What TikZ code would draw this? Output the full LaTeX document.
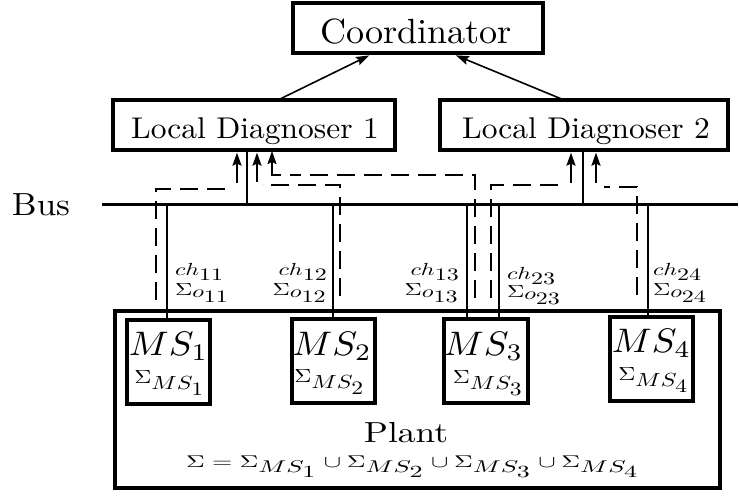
\documentclass[tikz,border=0pt]{standalone}
\usepackage{graphicx}
\usetikzlibrary{arrows.meta}
\newcommand{\sx}[3]{\scalebox{#1}[#2]{#3}}
\begin{document}
\begin{tikzpicture}[x=1pt,y=-1pt,
  bx/.style={draw, line width=3.3pt, inner sep=0pt},
  msbx/.style={draw, line width=4pt, inner sep=0pt, minimum width=83pt, minimum height=84pt},
  solidln/.style={line width=1.5pt},
  busln/.style={line width=3pt},
  dsh/.style={line width=1.6pt, dash pattern=on 18pt off 9pt},
  arr/.style={line width=1.6pt, -{Stealth[length=13pt,width=9pt,inset=2pt]}, shorten >=1pt},
  lbl/.style={inner sep=0pt, outer sep=0pt}]
\useasboundingbox (0,0) rectangle (739,496);
\fill[white] (0,0) rectangle (739,496);

% Coordinator and local diagnosers
\node[bx, minimum width=250pt, minimum height=50pt] (coord) at (418,28) {};
\node[lbl, anchor=base] (coordt) at (416,43) {\sx{3.61}{3.5}{Coordinator}};
\node[bx, minimum width=282pt, minimum height=50pt] (ld1) at (254,125) {};
\node[lbl, anchor=base] (ld1t) at (255,138) {\sx{3.15}{3.0}{Local Diagnoser 1}};
\node[bx, minimum width=288pt, minimum height=50pt] (ld2) at (584,125) {};
\node[lbl, anchor=base] (ld2t) at (586,138) {\sx{3.15}{3.0}{Local Diagnoser 2}};

\coordinate (u1) at (278,100); \coordinate (v1) at (370,55);
\coordinate (u2) at (564,100); \coordinate (v2) at (455,55);
\draw[arr] (u1) -- (v1);
\draw[arr] (u2) -- (v2);

% Bus
\coordinate (busL) at (102,204); \coordinate (busR) at (738,204);
\draw[busln] (busL) -- (busR);
\node[lbl, anchor=base] (bust) at (41,215) {\sx{3.5}{3.2}{Bus}};

% Plant
\node[bx, minimum width=605pt, minimum height=177pt] (plant) at (417.5,399.5) {};
\node[lbl, anchor=base] (plantt) at (406,442) {\sx{3.54}{2.9}{Plant}};
\node[lbl, anchor=base] (sigt) at (413,467) {\sx{2.6}{1.7}{$\Sigma=\Sigma_{\textstyle MS_{\textstyle 1}}\cup\Sigma_{\textstyle MS_{\textstyle 2}}\cup\Sigma_{\textstyle MS_{\textstyle 3}}\cup\Sigma_{\textstyle MS_{\textstyle 4}}$}};

% MS boxes
\node[msbx] (ms1) at (168.5,361.5) {};
\node[msbx] (ms2) at (333.5,361) {};
\node[msbx, minimum width=84pt] (ms3) at (486,361) {};
\node[msbx] (ms4) at (651.5,358.5) {};
\node[lbl, anchor=base] (ms1t) at (168.5,355) {\sx{3.7}{3.4}{$MS_1$}};
\node[lbl, anchor=base] (ms1s) at (170,383) {\sx{2.36}{1.9}{$\Sigma_{\textstyle MS_{\textstyle 1}}$}};
\node[lbl, anchor=base] (ms2t) at (332,355) {\sx{3.7}{3.4}{$MS_2$}};
\node[lbl, anchor=base] (ms2s) at (330,382) {\sx{2.36}{1.9}{$\Sigma_{\textstyle MS_{\textstyle 2}}$}};
\node[lbl, anchor=base] (ms3t) at (483.5,355) {\sx{3.7}{3.4}{$MS_3$}};
\node[lbl, anchor=base] (ms3s) at (488.5,383) {\sx{2.36}{1.9}{$\Sigma_{\textstyle MS_{\textstyle 3}}$}};
\node[lbl, anchor=base] (ms4t) at (651.5,352) {\sx{3.7}{3.4}{$MS_4$}};
\node[lbl, anchor=base] (ms4s) at (654,380) {\sx{2.36}{1.9}{$\Sigma_{\textstyle MS_{\textstyle 4}}$}};

% solid channels
\coordinate (l1) at (247,204); \coordinate (l2) at (583,204);
\draw[solidln] (l1) -- (l1 |- ld1.south);
\draw[solidln] (l2) -- (l2 |- ld2.south);
\coordinate (c11) at (167,204); \draw[solidln] (c11) -- (c11 |- ms1.north);
\coordinate (c12) at (333,204); \draw[solidln] (c12) -- (c12 |- ms2.north);
\coordinate (c13) at (467,204); \draw[solidln] (c13) -- (c13 |- ms3.north);
\coordinate (c23) at (499,204); \draw[solidln] (c23) -- (c23 |- ms3.north);
\coordinate (c24) at (648,204); \draw[solidln] (c24) -- (c24 |- ms4.north);

% dashed observation paths
\coordinate (d11s) at (156,300); \coordinate (d11c) at (233,189); \coordinate (d11a) at (237,183);
\draw[dsh] (d11s) |- (d11c);
\draw[arr] (d11a) -- (d11a |- ld1.south);
\coordinate (d12s) at (340,296); \coordinate (d12c) at (262,185); \coordinate (d12a) at (257,182);
\draw[dsh] (d12s) |- (d12c);
\draw[arr] (d12a) -- (d12a |- ld1.south);
\coordinate (d13s) at (475,298); \coordinate (d13c) at (290,175); \coordinate (d13a) at (281,175);
\coordinate (d13t) at (272,150);
\draw[dsh] (d13s) |- (d13c);
\draw[arr] (d13a) -| (d13t);
\coordinate (d23s) at (491,298); \coordinate (d23c) at (564,185); \coordinate (d23a) at (571,183);
\draw[dsh] (d23s) |- (d23c);
\draw[arr] (d23a) -- (d23a |- ld2.south);
\coordinate (d24s) at (637,295); \coordinate (d24c) at (604,187); \coordinate (d24a) at (596,183);
\draw[dsh] (d24s) |- (d24c);
\draw[arr] (d24a) -- (d24a |- ld2.south);

% channel labels
\node[lbl, anchor=base west] (ch11a) at (175,275) {\sx{2.4}{1.75}{$ch_{\textstyle 11}$}};
\node[lbl, anchor=base west] (ch11b) at (175,295) {\sx{2.4}{1.75}{$\Sigma_{\textstyle o_{\textstyle 11}}$}};
\node[lbl, anchor=base east] (ch12a) at (328,275) {\sx{2.4}{1.75}{$ch_{\textstyle 12}$}};
\node[lbl, anchor=base east] (ch12b) at (328,295) {\sx{2.4}{1.75}{$\Sigma_{\textstyle o_{\textstyle 12}}$}};
\node[lbl, anchor=base east] (ch13a) at (460,275) {\sx{2.4}{1.75}{$ch_{\textstyle 13}$}};
\node[lbl, anchor=base east] (ch13b) at (460,295) {\sx{2.4}{1.75}{$\Sigma_{\textstyle o_{\textstyle 13}}$}};
\node[lbl, anchor=base west] (ch23a) at (507,279) {\sx{2.4}{1.75}{$ch_{\textstyle 23}$}};
\node[lbl, anchor=base west] (ch23b) at (507,297) {\sx{2.4}{1.75}{$\Sigma_{\textstyle o_{\textstyle 23}}$}};
\node[lbl, anchor=base west] (ch24a) at (653,275) {\sx{2.4}{1.75}{$ch_{\textstyle 24}$}};
\node[lbl, anchor=base west] (ch24b) at (653,295) {\sx{2.4}{1.75}{$\Sigma_{\textstyle o_{\textstyle 24}}$}};
\end{tikzpicture}
\end{document}
